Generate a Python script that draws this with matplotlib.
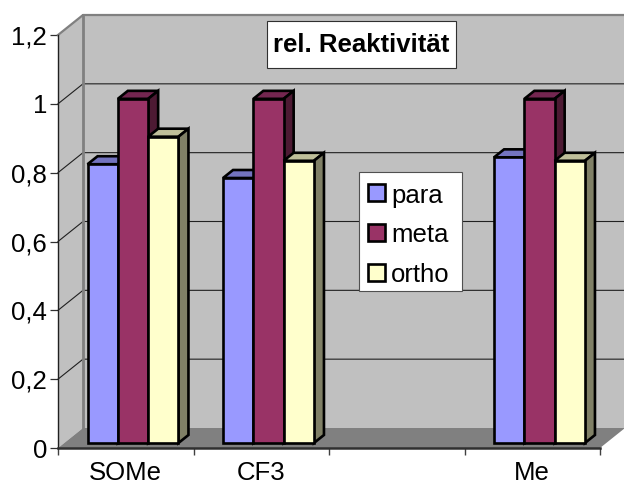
import matplotlib
matplotlib.use("Agg")
import matplotlib.pyplot as plt
from matplotlib.patches import Rectangle

plt.rcParams['font.family'] = ['Liberation Sans', 'DejaVu Sans']

categories = ['SOMe', 'CF3', '', 'Me']
para = [0.81, 0.77, None, 0.83]
meta = [1.0, 1.0, None, 1.0]
ortho = [0.89, 0.82, None, 0.82]
series_names = ['para', 'meta', 'ortho']
series_values = [para, meta, ortho]
y_ticks = [0, 0.2, 0.4, 0.6, 0.8, 1.0, 1.2]
y_labels = ['0', '0,2', '0,4', '0,6', '0,8', '1', '1,2']
title_text = 'rel. Reaktivität'

W, H = 624, 486
L, R, T, B = 58, 600, 35, 448
fig = plt.figure(figsize=(W / 100, H / 100), dpi=100, facecolor='white')
ax = fig.add_axes([L / W, 1 - B / H, (R - L) / W, (B - T) / H])
ax.set_xlim(0, 4)
ax.set_ylim(0, 1.2)
ax.patch.set_visible(False)

# oblique depth: one unit of depth, in data units
DX = 25 / ((R - L) / 4)
DY = 20 / ((B - T) / 1.2)
def ob(x, y, d):
    return x + d * DX, y + d * DY

def poly(pts, **kw):
    xs, ys = zip(*pts)
    ax.fill(xs, ys, clip_on=False, **kw)

WALL = '#C0C0C0'
GREY = '#808080'
poly([ob(0, 0, 0), ob(0, 0, 1), ob(0, 1.2, 1), ob(0, 1.2, 0)], fc=WALL, ec='none', zorder=1)
poly([ob(0, 0, 1), ob(4, 0, 1), ob(4, 1.2, 1), ob(0, 1.2, 1)], fc=WALL, ec='none', zorder=1)
poly([ob(0, 0, 0), ob(4, 0, 0), ob(4, 0, 1), ob(0, 0, 1)], fc=GREY, ec='none', zorder=1)

for v in y_ticks[1:-1]:
    a, b, c = ob(0, v, 0), ob(0, v, 1), ob(4, v, 1)
    ax.plot([a[0], b[0], c[0]], [a[1], b[1], c[1]], color='#202020', lw=0.8, clip_on=False, zorder=2)

# wall edges
a, b, c = ob(0, 1.2, 0), ob(0, 1.2, 1), ob(4, 1.2, 1)
ax.plot([a[0], b[0], c[0]], [a[1], b[1], c[1]], color=GREY, lw=1.6, clip_on=False, zorder=2)
a, b = ob(0, 0, 1), ob(0, 1.2, 1)
ax.plot([a[0], b[0]], [a[1], b[1]], color=GREY, lw=2.0, clip_on=False, zorder=2)

# bars
BW = 30.3 / ((R - L) / 4)
GAP = 0.172
D0, D1 = 0.25, 0.65
FACES = ['#9999FF', '#993366', '#FFFFCC']
TOPS = ['#7373BF', '#732650', '#BFBF99']
SIDES = ['#4D4D80', '#4D1A33', '#808066']
EC = 'black'
LW = 1.9
z = 5
for c in range(len(categories)):
    for s, vals in enumerate(series_values):
        v = vals[c]
        if v is None:
            continue
        x0 = c + GAP + s * BW
        x1 = x0 + BW
        poly([ob(x0, v, D0), ob(x1, v, D0), ob(x1, v, D1), ob(x0, v, D1)],
             fc=TOPS[s], ec=EC, lw=LW, zorder=z, joinstyle='miter')
        poly([ob(x1, 0, D0), ob(x1, 0, D1), ob(x1, v, D1), ob(x1, v, D0)],
             fc=SIDES[s], ec=EC, lw=LW, zorder=z, joinstyle='miter')
        fx, fy = ob(x0, 0, D0)
        ax.bar(fx, v, bottom=fy, width=BW, align='edge', color=FACES[s],
               edgecolor=EC, linewidth=LW, zorder=z + 0.5, clip_on=False)
        z += 1

# axes
for s in ['top', 'right']:
    ax.spines[s].set_visible(False)
ax.spines['left'].set_color('#202020')
ax.spines['left'].set_linewidth(1.0)
ax.spines['bottom'].set_color('#303030')
ax.spines['bottom'].set_linewidth(1.8)
ax.spines['left'].set_zorder(3)
ax.spines['bottom'].set_zorder(3)
FS = 18.5
ax.set_yticks(y_ticks, y_labels, fontsize=FS, color='black')
ax.tick_params(axis='y', length=5.8, width=0.9, color='#303030', pad=2)
ax.set_xticks(range(5), [''] * 5)
ax.tick_params(axis='x', which='major', length=5, width=1, color='#404040')
ax.set_xticks([i + 0.5 for i in range(4)], categories, minor=True, fontsize=FS)
ax.tick_params(axis='x', which='minor', length=0, pad=9.5)

# title and legend boxes placed in figure pixels
def fx(px): return px / W
def fy(py): return 1 - py / H
fig.add_artist(Rectangle((fx(267), fy(68)), 189 / W, 47 / H, transform=fig.transFigure,
                         fc='white', ec='#303030', lw=0.8, zorder=20))
fig.text(fx(361), fy(45), title_text, ha='center', va='center', fontsize=18.5,
         fontweight='bold', color='black', zorder=21)

fig.add_artist(Rectangle((fx(359), fy(291)), 103 / W, 119 / H, transform=fig.transFigure,
                         fc='white', ec='#505050', lw=0.8, zorder=20))
for i, (name, col) in enumerate(zip(series_names, FACES)):
    y = 193 + i * 39.5
    fig.add_artist(Rectangle((fx(368), fy(y + 8.5)), 17 / W, 17 / H, transform=fig.transFigure,
                             fc=col, ec='black', lw=1.9, zorder=21))
    fig.text(fx(391), fy(y), name, ha='left', va='center_baseline', fontsize=FS,
             color='black', zorder=21)

fig.savefig('out.png', dpi=100, facecolor='white')
